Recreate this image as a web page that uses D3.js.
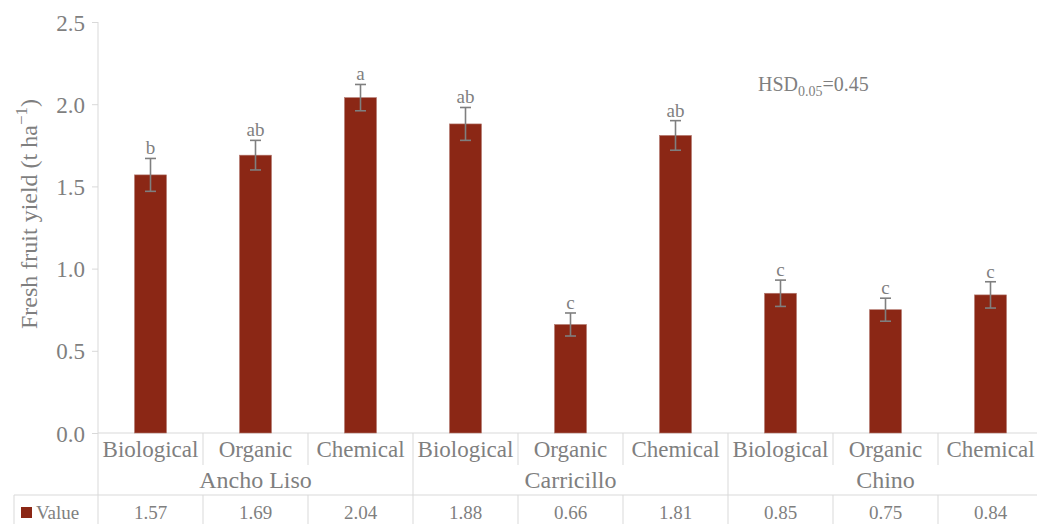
<!DOCTYPE html>
<html><head><meta charset="utf-8">
<script src="https://cdn.jsdelivr.net/npm/d3@7"></script>
<style>body{margin:0;background:#fff}svg{display:block}text{font-family:"Liberation Serif","Times New Roman",serif;fill:#7f7f7f}</style>
</head><body><div id="chart"></div>
<script>
const groups = ["Ancho Liso", "Carricillo", "Chino"];
const treatments = ["Biological", "Organic", "Chemical"];
const values = [1.57, 1.69, 2.04, 1.88, 0.66, 1.81, 0.85, 0.75, 0.84];
const errors = [0.10, 0.09, 0.08, 0.10, 0.07, 0.09, 0.08, 0.07, 0.08];
const letters = ["b", "ab", "a", "ab", "c", "ab", "c", "c", "c"];
const yTicks = [0, 0.5, 1.0, 1.5, 2.0, 2.5];
const seriesName = "Value";

(function () {
const W = 1037, H = 524;
const plotLeft = 98, plotTop = 22, base = 433, bandW = 105;
const rows = [];
groups.forEach((g, gi) => treatments.forEach((t, ti) => rows.push({g, t, key: gi + "-" + t, i: gi * 3 + ti})));

const svg = d3.select("#chart").append("svg").attr("width", W).attr("height", H)
  .attr("font-family", '"Liberation Serif","Times New Roman",serif');
const x = d3.scaleBand().domain(rows.map(r => r.key)).range([plotLeft, plotLeft + bandW * rows.length]).paddingInner(0).paddingOuter(0);
const y = d3.scaleLinear().domain([0, 2.5]).range([base, plotTop]);
const grid = "#d9d9d9";

// y axis
const yAxis = d3.axisLeft(y).tickValues(yTicks).tickFormat(d3.format(".1f")).tickSize(6).tickPadding(7);
const ga = svg.append("g").attr("transform", `translate(${plotLeft},0)`).call(yAxis);
ga.select(".domain").remove();
ga.selectAll("line").attr("stroke", grid);
ga.selectAll("text").attr("font-size", 23).attr("fill", "#7f7f7f").attr("font-family", '"Liberation Serif",serif').attr("dy", "0.35em");
svg.append("line").attr("x1", plotLeft).attr("x2", plotLeft).attr("y1", plotTop).attr("y2", H).attr("stroke", grid);

// baseline
svg.append("line").attr("x1", plotLeft).attr("x2", W).attr("y1", base).attr("y2", base).attr("stroke", grid);
// table top
svg.append("line").attr("x1", 14).attr("x2", W).attr("y1", 495).attr("y2", 495).attr("stroke", grid);
svg.append("line").attr("x1", 14).attr("x2", 14).attr("y1", 495).attr("y2", H).attr("stroke", grid);

// dividers
rows.forEach((r, i) => {
  const xe = x(r.key) + bandW;
  const isGroup = (i % 3) === 2;
  svg.append("line").attr("x1", xe).attr("x2", xe).attr("y1", base).attr("y2", isGroup ? H : 465).attr("stroke", grid);
  if (!isGroup) svg.append("line").attr("x1", xe).attr("x2", xe).attr("y1", 495).attr("y2", H).attr("stroke", grid);
});

// bars
const bw = 32;
svg.append("g").selectAll("rect").data(rows).join("rect")
  .attr("x", d => x(d.key) + bandW / 2 - bw / 2)
  .attr("y", d => y(values[d.i]))
  .attr("width", bw)
  .attr("height", d => base - y(values[d.i]))
  .attr("fill", "#8b2715").attr("stroke", "#b37a70").attr("stroke-width", 0.6);

// error bars
const eg = svg.append("g").attr("stroke", "#7f7f7f").attr("stroke-width", 1.6);
rows.forEach(d => {
  const cx = x(d.key) + bandW / 2;
  const v = values[d.i], e = errors[d.i];
  eg.append("line").attr("x1", cx).attr("x2", cx).attr("y1", y(v + e)).attr("y2", y(v - e));
  eg.append("line").attr("x1", cx - 5.5).attr("x2", cx + 5.5).attr("y1", y(v + e)).attr("y2", y(v + e));
  eg.append("line").attr("x1", cx - 5.5).attr("x2", cx + 5.5).attr("y1", y(v - e)).attr("y2", y(v - e));
  svg.append("text").attr("x", cx).attr("y", y(v + e) - 4).attr("text-anchor", "middle").attr("font-size", 19).text(letters[d.i]);
});

// category labels
rows.forEach(d => {
  const cx = x(d.key) + bandW / 2;
  svg.append("text").attr("x", cx).attr("y", 457).attr("text-anchor", "middle").attr("font-size", 23).text(d.t);
  svg.append("text").attr("x", cx).attr("y", 519).attr("text-anchor", "middle").attr("font-size", 19).text(values[d.i].toFixed(2));
});
groups.forEach((g, gi) => {
  const cx = plotLeft + bandW * (gi * 3 + 1.5);
  svg.append("text").attr("x", cx).attr("y", 488).attr("text-anchor", "middle").attr("font-size", 24).text(g);
});

// legend in table
svg.append("rect").attr("x", 21).attr("y", 507).attr("width", 11).attr("height", 11).attr("fill", "#8b2715");
svg.append("text").attr("x", 36).attr("y", 519).attr("font-size", 19).text(seriesName);

// HSD
const hsd = svg.append("text").attr("x", 758).attr("y", 91).attr("font-size", 20);
hsd.append("tspan").text("HSD");
hsd.append("tspan").attr("font-size", 14).attr("dy", 5).text("0.05");
hsd.append("tspan").attr("dy", -5).text("=0.45");

// y title
const yt = svg.append("text").attr("transform", "translate(37,214) rotate(-90)").attr("text-anchor", "middle").attr("font-size", 24);
yt.append("tspan").text("Fresh fruit yield (t ha");
yt.append("tspan").attr("font-size", 17).attr("dy", -10).text("\u22121");
yt.append("tspan").attr("dy", 10).text(")");
})();
</script></body></html>
